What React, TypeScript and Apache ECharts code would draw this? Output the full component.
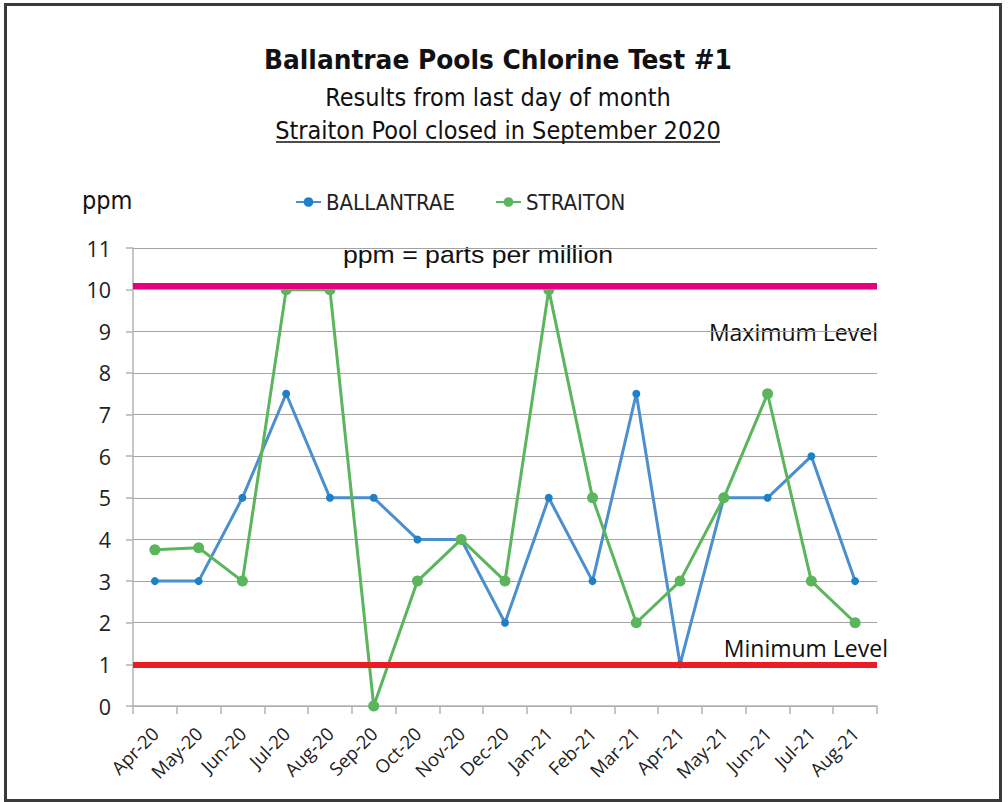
import React, { useEffect, useRef } from "react";
import * as echarts from "echarts";

const categories = ["Apr-20", "May-20", "Jun-20", "Jul-20", "Aug-20", "Sep-20", "Oct-20", "Nov-20", "Dec-20", "Jan-21", "Feb-21", "Mar-21", "Apr-21", "May-21", "Jun-21", "Jul-21", "Aug-21"];
const ballantrae = [3, 3, 5, 7.5, 5, 5, 4, 4, 2, 5, 3, 7.5, 1, 5, 5, 6, 3];
const straiton = [3.75, 3.8, 3, 10, 10, 0, 3, 4, 3, 10, 5, 2, 3, 5, 7.5, 3, 2];
const maxLevel = 10.1;
const minLevel = 1;
const yTicks = { min: 0, max: 11, interval: 1 };

const titleText = "Ballantrae Pools Chlorine Test #1";
const subText1 = "Results from last day of month";
const subText2 = "Straiton Pool closed in September 2020";

const NARROW = "'DejaVu Sans Condensed', sans-serif";
const SANS = "'Open Sans', 'Noto Sans', sans-serif";
const ARIAL = "'Liberation Sans', Arial, sans-serif";

export default function App() {
  const ref = useRef<HTMLDivElement>(null);
  useEffect(() => {
    document.body.style.margin = "0";
    const chart = echarts.init(ref.current!, null, { renderer: "svg" });
    chart.setOption({
      animation: false,
      backgroundColor: "#ffffff",
      grid: { left: 133, right: 131, top: 248, bottom: 96, containLabel: false },
      legend: {
        left: 290,
        top: 186,
        itemGap: 40,
        itemWidth: 25,
        itemHeight: 12,
        textStyle: { fontFamily: NARROW, fontSize: 22, color: "#222" },
        data: ["BALLANTRAE", "STRAITON"],
      },
      xAxis: {
        type: "category",
        data: categories,
        boundaryGap: true,
        axisLine: { lineStyle: { color: "#b3b3b3", width: 1.5 } },
        axisTick: { show: true, length: 8, lineStyle: { color: "#b3b3b3", width: 1.5 } },
        axisLabel: {
          rotate: 45,
          interval: 0,
          margin: 24,
          fontFamily: SANS,
          fontSize: 18.5,
          color: "#222",
        },
      },
      yAxis: {
        type: "value",
        min: yTicks.min,
        max: yTicks.max,
        interval: yTicks.interval,
        axisLine: { show: true, lineStyle: { color: "#b3b3b3", width: 1.5 } },
        axisTick: { show: true, length: 7, lineStyle: { color: "#b3b3b3", width: 1.5 } },
        axisLabel: { fontFamily: SANS, fontSize: 21.5, color: "#222", margin: 22 },
        splitLine: { lineStyle: { color: "#a3a3a3", width: 1 } },
      },
      series: [
        {
          name: "BALLANTRAE",
          type: "line",
          data: ballantrae,
          symbol: "circle",
          symbolSize: 8,
          color: "#1f80c8",
          lineStyle: { color: "#4b8fcf", width: 3 },
          itemStyle: { color: "#1f80c8" },
          z: 3,
          markLine: {
            silent: true,
            symbol: "none",
            label: { show: false },
            data: [
              { yAxis: maxLevel, lineStyle: { color: "#e6007e", width: 6, type: "solid" } },
              { yAxis: minLevel, lineStyle: { color: "#ed1c24", width: 6, type: "solid" } },
            ],
          },
        },
        {
          name: "STRAITON",
          type: "line",
          data: straiton,
          symbol: "circle",
          symbolSize: 11,
          color: "#5ab55c",
          lineStyle: { color: "#5ab55c", width: 3 },
          itemStyle: { color: "#5ab55c" },
          z: 4,
        },
      ],
      graphic: [
        {
          type: "rect",
          shape: { x: 5.5, y: 4.5, width: 995, height: 796 },
          style: { fill: "none", stroke: "#3a3a3a", lineWidth: 3 },
          silent: true,
        },
        {
          type: "text",
          x: 498,
          y: 60,
          scaleX: 1.065,
          style: { text: titleText, fontFamily: NARROW, fontWeight: "bold", fontSize: 26, fill: "#111", align: "center", verticalAlign: "middle" },
        },
        {
          type: "text",
          x: 498,
          y: 97,
          style: { text: subText1, fontFamily: NARROW, fontSize: 25, fill: "#111", align: "center", verticalAlign: "middle" },
        },
        {
          type: "text",
          x: 498,
          y: 130,
          style: { text: subText2, fontFamily: NARROW, fontSize: 25, fill: "#111", align: "center", verticalAlign: "middle" },
        },
        {
          type: "line",
          shape: { x1: 276, y1: 142, x2: 720, y2: 142 },
          style: { stroke: "#111", lineWidth: 1.5 },
        },
        {
          type: "text",
          x: 82,
          y: 200,
          style: { text: "ppm", fontFamily: NARROW, fontSize: 25, fill: "#111", align: "left", verticalAlign: "middle" },
        },
        {
          type: "text",
          x: 478,
          y: 254,
          scaleX: 1.11,
          style: { text: "ppm = parts per million", fontFamily: ARIAL, fontSize: 24, fill: "#111", align: "center", verticalAlign: "middle" },
        },
        {
          type: "text",
          x: 878,
          y: 332,
          style: { text: "Maximum Level", fontFamily: SANS, fontSize: 23, fill: "#111", align: "right", verticalAlign: "middle" },
        },
        {
          type: "text",
          x: 888,
          y: 648,
          style: { text: "Minimum Level", fontFamily: SANS, fontSize: 23, fill: "#111", align: "right", verticalAlign: "middle" },
        },
      ],
    });
    return () => chart.dispose();
  }, []);
  return <div ref={ref} style={{ width: 1008, height: 802 }} />;
}
